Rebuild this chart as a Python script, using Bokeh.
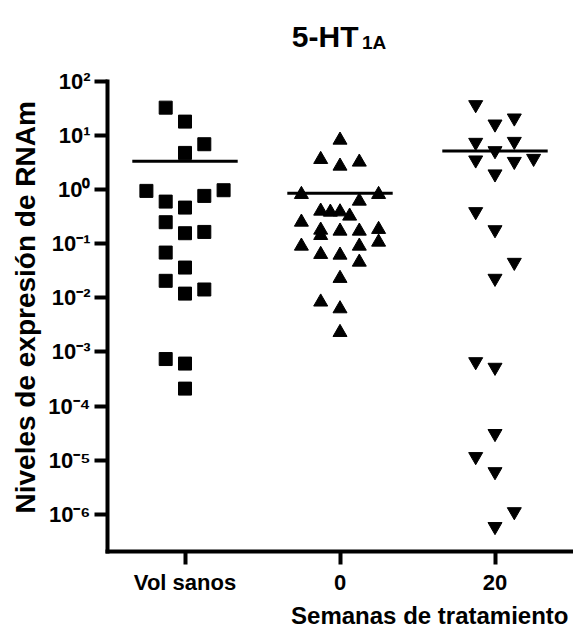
from bokeh.plotting import figure
from bokeh.models import Range1d, FixedTicker, CustomJSTickFormatter, Label, Title
from bokeh.embed import file_html
from bokeh.resources import INLINE

# ---- data ----
categories = ["Vol sanos", "0", "20"]

vol_sanos = [33.0, 18.2, 6.95, 4.80, 0.953, 0.98, 0.77, 0.604, 0.468, 0.251,
             0.157, 0.166, 0.0689, 0.0364, 0.0207, 0.0120, 0.0143, 7.4e-4, 6.1e-4, 2.1e-4]
vol_sanos_col = [-1, 0, 1, 0, -2, 2, 1, -1, 0, -1, 0, 1, -1, 0, -1, 0, 1, -1, 0, 0]

sem0 = [8.28, 3.64, 3.25, 2.74, 0.82, 0.82, 0.617, 0.403, 0.386, 0.391, 0.326, 0.252,
        0.1795, 0.143, 0.172, 0.172, 0.185, 0.1077, 0.0908, 0.0908, 0.0638, 0.0619,
        0.0459, 0.0230, 0.0084, 0.0063, 0.0023]
sem0_col = [0, -1, 1, 0, -2, 2, 1, -1, -0.5, 0, 0.5, -2, -1, -1, 0, 1, 2, 2, 1, -2,
            -1, 0, 1, 0, -1, 0, 0]

sem20 = [37.4, 21.2, 16.4, 7.52, 7.83, 5.27, 3.55, 3.34, 3.80, 1.96, 0.393, 0.182,
         0.0454, 0.0230, 6.6e-4, 5.2e-4, 3.1e-5, 1.16e-5, 6.1e-6, 1.11e-6, 5.9e-7]
sem20_col = [-1, 1, 0, -1, 1, 0, -1, 1, 2, 0, -1, 0, 1, 0, -1, 0, 0, -1, 0, 1, 0]

y_ticks = [1e-6, 1e-5, 1e-4, 1e-3, 1e-2, 1e-1, 1e0, 1e1, 1e2]
y_axis_min = 10 ** -6.69
y_axis_max = 1e2

title_main = "5-HT"
title_sub = "1A"
y_label = "Niveles de expresión de RNAm"
x_label = "Semanas de tratamiento"

FONT = "Liberation Sans"
SPREAD = 0.1245
HALF = 0.34

# The frame reaches the top of the canvas so the title labels sit inside it;
# the y axis line itself is bounded to [y_axis_min, y_axis_max].
p = figure(frame_width=465, frame_height=551, title=None,
           x_range=Range1d(-0.5, 2.5), y_range=Range1d(y_axis_min, 10 ** 3.5),
           y_axis_type="log", output_backend="svg", toolbar_location=None,
           min_border_left=107, min_border_right=1, min_border_top=0, min_border_bottom=76)
p.outline_line_color = None
p.xgrid.visible = False
p.ygrid.visible = False
p.background_fill_color = "white"
p.border_fill_color = "white"

groups = [(vol_sanos, vol_sanos_col, "square", 13),
          (sem0, sem0_col, "triangle", 14),
          (sem20, sem20_col, "inverted_triangle", 14)]

for i, (vals, cols, marker, size) in enumerate(groups):
    xs = [i + c * SPREAD for c in cols]
    p.scatter(xs, vals, marker=marker, size=size, fill_color="black",
              line_color="black", line_width=1)
    m = sum(vals) / len(vals)
    p.segment(x0=[i - HALF], x1=[i + HALF], y0=[m], y1=[m], line_width=3, line_color="black")

for ax in (p.xaxis[0], p.yaxis[0]):
    ax.axis_line_width = 4
    ax.axis_line_color = "black"
    ax.axis_line_cap = "square"
    ax.major_tick_line_width = 4
    ax.major_tick_line_color = "black"
    ax.major_tick_in = 0
    ax.major_tick_out = 13
    ax.minor_tick_line_color = None
    ax.major_label_text_font = FONT
    ax.major_label_text_font_style = "bold"
    ax.major_label_text_font_size = "22px"
    ax.major_label_text_color = "black"

yax = p.yaxis[0]
yax.bounds = (y_axis_min, y_axis_max)
yax.ticker = FixedTicker(ticks=y_ticks)
yax.formatter = CustomJSTickFormatter(code="""
const sup = {"-": "\u207b", "0": "\u2070", "1": "\u00b9", "2": "\u00b2", "3": "\u00b3",
             "4": "\u2074", "5": "\u2075", "6": "\u2076", "7": "\u2077", "8": "\u2078", "9": "\u2079"};
const e = Math.round(Math.log10(tick));
return "10" + String(e).split("").map(c => sup[c]).join("");
""")
yax.major_label_standoff = 4

xax = p.xaxis[0]
xax.ticker = FixedTicker(ticks=[0, 1, 2])
xax.major_label_overrides = {i: c for i, c in enumerate(categories)}
xax.major_label_standoff = 5

yt = Title(text=y_label, align="left", offset=38, standoff=9, text_font=FONT,
           text_font_style="bold", text_font_size="28px", text_color="black")
p.add_layout(yt, "left")

xt = Title(text=x_label, align="right", offset=4, standoff=4, text_font=FONT,
           text_font_style="bold", text_font_size="24px", text_color="black")
p.add_layout(xt, "below")

p.add_layout(Label(x=1, x_units="data", y=515, y_units="screen", text=title_main,
                   text_align="right", text_baseline="alphabetic", x_offset=18.5,
                   text_font=FONT, text_font_style="bold", text_font_size="30px",
                   text_color="black"))
p.add_layout(Label(x=1, x_units="data", y=509.3, y_units="screen", text=title_sub,
                   text_align="left", text_baseline="alphabetic", x_offset=22,
                   text_font=FONT, text_font_style="bold", text_font_size="19px",
                   text_color="black"))

open("out.html", "w").write(file_html(p, INLINE))
